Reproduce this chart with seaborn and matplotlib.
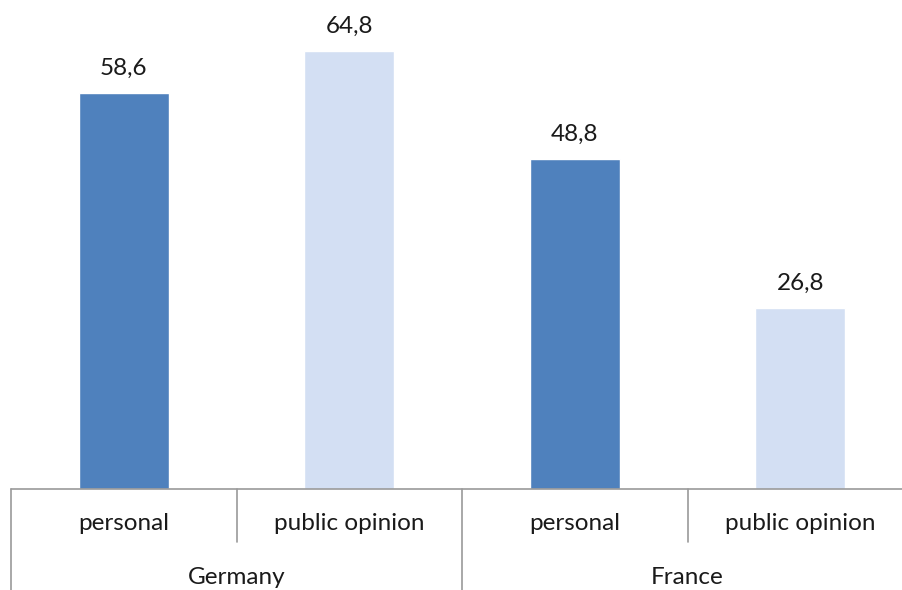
import matplotlib
matplotlib.use("Agg")
import matplotlib.pyplot as plt
import seaborn as sns
import pandas as pd

countries = ["Germany", "Germany", "France", "France"]
kinds = ["personal", "public opinion", "personal", "public opinion"]
values = [58.6, 64.8, 48.8, 26.8]
country_names = ["Germany", "France"]

palette = {"personal": "#4F81BD", "public opinion": "#D3DFF3"}

df = pd.DataFrame({
    "slot": [f"{c}|{k}" for c, k in zip(countries, kinds)],
    "kind": kinds,
    "value": values,
})

sns.set_style("white")
plt.rcParams["font.family"] = ["Lato", "DejaVu Sans"]

fig = plt.figure(figsize=(9.02, 5.90), dpi=100)
ax = fig.add_axes([11 / 902, 101 / 590, 902 / 902, 489 / 590])

sns.barplot(data=df, x="slot", y="value", hue="kind", dodge=False,
            palette=palette, width=0.4, legend=False, ax=ax,
            saturation=1)

ax.set_ylim(0, 72.4)
ax.set_xlim(-0.5, 3.5)
for c in ax.containers:
    ax.bar_label(c, labels=[f"{v:.1f}".replace(".", ",") if v == v else "" for v in c.datavalues],
                 padding=10.5, fontsize=17.5, color="#1a1a1a")

ax.set_xticks([])
ax.set_yticks([])
ax.set_xlabel("")
ax.set_ylabel("")
for s in ax.spines.values():
    s.set_visible(False)

# two-level category axis: item labels above, country groups below
line_kw = dict(color="#9a9a9a", lw=1.2, clip_on=False, transform=ax.get_xaxis_transform())
inner = -53 / 489
outer = -101 / 489
ax.plot([-0.5, 3.5], [0, 0], **line_kw)
ax.plot([-0.5, -0.5], [0, outer], **line_kw)
ax.plot([1.5, 1.5], [0, outer], **line_kw)
ax.plot([0.5, 0.5], [0, inner], **line_kw)
ax.plot([2.5, 2.5], [0, inner], **line_kw)

for i, k in enumerate(kinds):
    ax.text(i, -34 / 489, k, transform=ax.get_xaxis_transform(),
            ha="center", va="center", fontsize=17.5, color="#1a1a1a")
for j, c in enumerate(country_names):
    ax.text(j * 2 + 0.5, -88 / 489, c, transform=ax.get_xaxis_transform(),
            ha="center", va="center", fontsize=17.5, color="#1a1a1a")

fig.savefig("out.png", dpi=100)
